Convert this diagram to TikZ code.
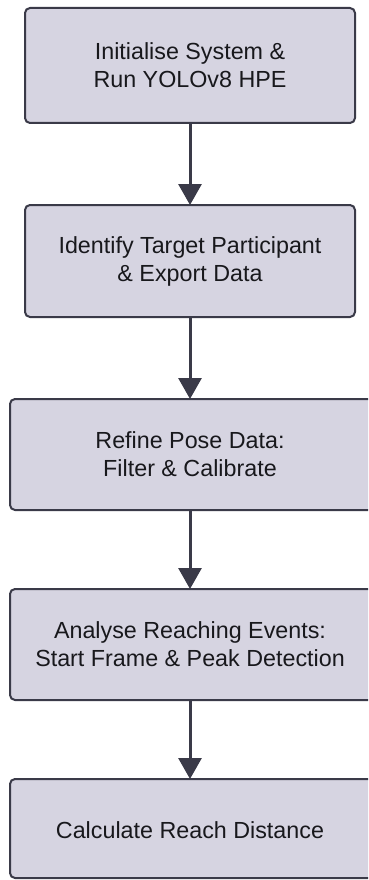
\documentclass[tikz,border=0pt]{standalone}
\usepackage{fontspec}
\setmainfont{Liberation Sans}
\usetikzlibrary{arrows.meta}
\definecolor{boxfill}{RGB}{214,212,225}
\definecolor{boxline}{RGB}{58,58,72}
\definecolor{txtcol}{RGB}{24,24,28}
\begin{document}
\begin{tikzpicture}[x=1pt,y=-1pt,
  stepbox/.style={draw=boxline, fill=boxfill, line width=2pt, rounded corners=5pt,
    outer sep=0pt, inner sep=0pt, align=center, text=txtcol,
    font=\fontsize{23.3}{28}\selectfont},
  arr/.style={draw=boxline, line width=3pt, -{Triangle[length=21pt,width=23pt]}}]
\useasboundingbox (0,0) rectangle (368,880);
\clip (0,0) rectangle (368,880);
\node[stepbox, minimum width=330pt, minimum height=115pt] (b1) at (190,65.5) {Initialise System \&\\Run YOLOv8 HPE};
\node[stepbox, minimum width=330pt, minimum height=112pt] (b2) at (190,261) {Identify Target Participant\\\& Export Data};
\node[stepbox, minimum width=366pt, minimum height=111pt] (b3) at (193,454.5) {};
\node[align=center, text=txtcol, font=\fontsize{23.3}{28}\selectfont] (t3) at (190,454.5) {Refine Pose Data:\\Filter \& Calibrate};
\node[stepbox, minimum width=366pt, minimum height=111pt] (b4) at (193,644.5) {};
\node[align=center, text=txtcol, font=\fontsize{23.3}{28}\selectfont] (t4) at (190,644.5) {Analyse Reaching Events:\\Start Frame \& Peak Detection};
\node[stepbox, minimum width=366pt, minimum height=99pt] (b5) at (193,828.5) {};
\node[align=center, text=txtcol, font=\fontsize{23.3}{28}\selectfont] (t5) at (190,830) {Calculate Reach Distance};
\coordinate (a3) at (190,399);
\coordinate (a3b) at (190,510);
\coordinate (a4) at (190,589);
\coordinate (a4b) at (190,700);
\coordinate (a5) at (190,779);
\draw[arr] (b1.south) -- (b2.north);
\draw[arr] (b2.south) -- (a3);
\draw[arr] (a3b) -- (a4);
\draw[arr] (a4b) -- (a5);
\end{tikzpicture}
\end{document}
